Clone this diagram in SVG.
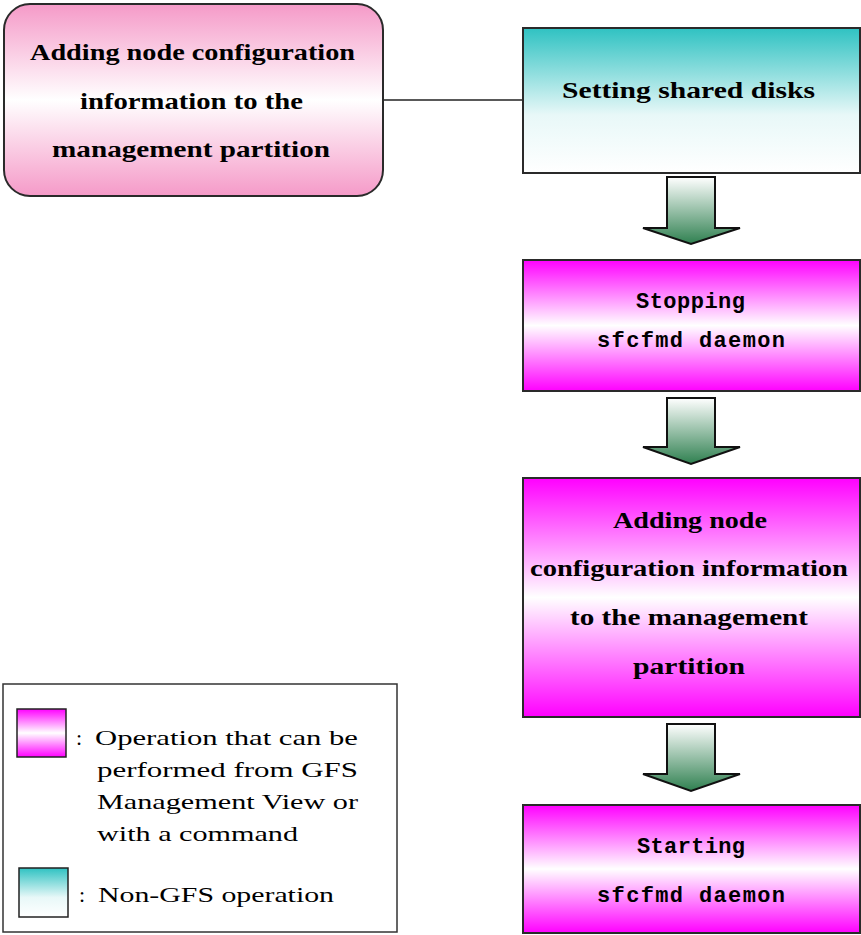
<svg xmlns="http://www.w3.org/2000/svg" width="861" height="935" viewBox="0 0 861 935">
<defs>
<linearGradient id="gPink" x1="0" y1="0" x2="0" y2="1">
<stop offset="0" stop-color="#f59ac8"/><stop offset="0.5" stop-color="#ffffff"/><stop offset="1" stop-color="#f59ac8"/>
</linearGradient>
<linearGradient id="gMag" x1="0" y1="0" x2="0" y2="1">
<stop offset="0" stop-color="#ff00ff"/><stop offset="0.5" stop-color="#ffffff"/><stop offset="1" stop-color="#ff00ff"/>
</linearGradient>
<linearGradient id="gTeal" x1="0" y1="0" x2="0" y2="1">
<stop offset="0" stop-color="#2fc2c2"/><stop offset="0.6" stop-color="#e8f8f8"/><stop offset="1" stop-color="#ffffff"/>
</linearGradient>
<linearGradient id="gArrow" x1="0" y1="0" x2="0" y2="1">
<stop offset="0" stop-color="#ffffff"/><stop offset="1" stop-color="#2f8050"/>
</linearGradient>
<style>
.box{stroke:#2a2a2a;stroke-width:2}
.arrow{fill:url(#gArrow);stroke:#111;stroke-width:2;stroke-linejoin:miter}
.bt{font-family:"Liberation Serif","Times New Roman",serif;font-weight:bold;font-size:23px;fill:#000}
.mt{font-family:"Liberation Mono","Courier New",monospace;font-weight:bold;font-size:22px;fill:#000}
.lt{font-family:"Liberation Serif","Times New Roman",serif;font-size:22px;fill:#000}
</style>
</defs>
<g id="connectors">
<line x1="383" y1="100" x2="523" y2="100" stroke="#222" stroke-width="1.5"/>
<path class="arrow" d="M667,177 H715 V228 H740 L691,244 L643,228 H667 Z"/>
<path class="arrow" d="M667,398 H715 V447 H740 L691,464 L643,447 H667 Z"/>
<path class="arrow" d="M667,724 H715 V774 H740 L691,791 L643,774 H667 Z"/>
</g>
<g id="node-pink">
<rect class="box" x="4" y="4" width="379" height="192" rx="26" fill="url(#gPink)"/>
<text class="bt" x="30" y="60" textLength="325" lengthAdjust="spacingAndGlyphs">Adding node configuration</text>
<text class="bt" x="80" y="109" textLength="223" lengthAdjust="spacingAndGlyphs">information to the</text>
<text class="bt" x="52" y="157" textLength="278" lengthAdjust="spacingAndGlyphs">management partition</text>
</g>
<g id="node-setting">
<rect class="box" x="523" y="28" width="337" height="145" fill="url(#gTeal)"/>
<text class="bt" x="562" y="98" textLength="253" lengthAdjust="spacingAndGlyphs">Setting shared disks</text>
</g>
<g id="node-stopping">
<rect class="box" x="523" y="260" width="337" height="131" fill="url(#gMag)"/>
<text class="mt" x="636" y="308" textLength="109">Stopping</text>
<text class="mt" x="597" y="347" textLength="188">sfcfmd daemon</text>
</g>
<g id="node-adding">
<rect class="box" x="523" y="478" width="337" height="239" fill="url(#gMag)"/>
<text class="bt" x="613" y="528" textLength="154" lengthAdjust="spacingAndGlyphs">Adding node</text>
<text class="bt" x="530" y="576" textLength="318" lengthAdjust="spacingAndGlyphs">configuration information</text>
<text class="bt" x="570" y="625" textLength="238" lengthAdjust="spacingAndGlyphs">to the management</text>
<text class="bt" x="633" y="674" textLength="112" lengthAdjust="spacingAndGlyphs">partition</text>
</g>
<g id="node-starting">
<rect class="box" x="523" y="805" width="337" height="128" fill="url(#gMag)"/>
<text class="mt" x="637" y="853" textLength="108">Starting</text>
<text class="mt" x="597" y="902" textLength="188">sfcfmd daemon</text>
</g>
<g id="legend">
<rect x="3" y="684" width="394" height="248" fill="#fff" stroke="#333" stroke-width="1.5"/>
<rect x="17" y="709" width="49" height="48" fill="url(#gMag)" stroke="#222" stroke-width="1.5"/>
<rect x="19" y="868" width="49" height="49" fill="url(#gTeal)" stroke="#222" stroke-width="1.5"/>
<text class="lt" x="76" y="745">:</text>
<text class="lt" x="95" y="745" textLength="263" lengthAdjust="spacingAndGlyphs">Operation that can be</text>
<text class="lt" x="97" y="777" textLength="261" lengthAdjust="spacingAndGlyphs">performed from GFS</text>
<text class="lt" x="97" y="809" textLength="261" lengthAdjust="spacingAndGlyphs">Management View or</text>
<text class="lt" x="97" y="841" textLength="201" lengthAdjust="spacingAndGlyphs">with a command</text>
<text class="lt" x="79" y="902">:</text>
<text class="lt" x="98" y="902" textLength="236" lengthAdjust="spacingAndGlyphs">Non-GFS operation</text>
</g>
</svg>
